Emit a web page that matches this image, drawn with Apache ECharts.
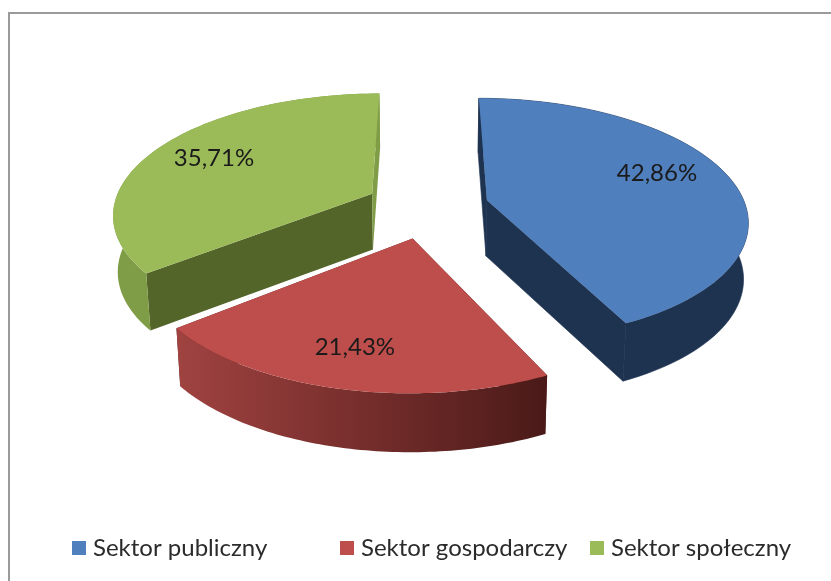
<!DOCTYPE html>
<html>
<head>
<meta charset="utf-8">
<style>
  html, body { margin: 0; padding: 0; background: #fff; }
  #chart { width: 831px; height: 581px; }
</style>
</head>
<body>
<div id="chart"></div>
<script src="https://cdn.jsdelivr.net/npm/echarts@6/dist/echarts.min.js"></script>
<script>
// data
const categories = ["Sektor publiczny", "Sektor gospodarczy", "Sektor społeczny"]
const shares = [42.86, 21.43, 35.71]

// look of each slice, same order as categories
const topColors = ["#4f7fbc", "#be4e4b", "#9bbb59"]
const sideColors = ["#1e3350", "#5a1f1d", "#7f9c46"]
const cutColors = ["#1e3350", "#5a1f1d", "#546529"]
const labelSpots = [[0.735, -6], [0.76, 1], [0.735, 0]] // part of radius, degrees off the middle
const legendLefts = [67, 335, 585]

// projection of the tilted pie
const cx = 427, cy = 207
const radiusX = 259, radiusY = 240, explode = 62
const persp = 0.00065, tilt = 0.499

function project(x, y, lowered) {
  const w = 1 + y * persp
  let sx = x / w
  let sy = -tilt * y / w
  if (lowered) {
    sx *= 0.985
    sy += 44 + 12 / w
  }
  return [cx + sx, cy + sy]
}

function angleStart(i) {
  let sum = 0
  for (let k = 0; k < i; k++) sum += shares[k]
  return (sum / 100) * Math.PI * 2
}

function renderSlice(i) {
  const a0 = angleStart(i)
  const a1 = a0 + (shares[i] / 100) * Math.PI * 2
  const mid = (a0 + a1) / 2
  const ox = Math.sin(mid) * explode
  const oy = Math.cos(mid) * explode
  const arcTop = []
  const arcLow = []
  const n = 80
  for (let k = 0; k <= n; k++) {
    const a = a0 + ((a1 - a0) * k) / n
    const x = ox + Math.sin(a) * radiusX
    const y = oy + Math.cos(a) * radiusY
    arcTop.push(project(x, y, false))
    arcLow.push(project(x, y, true))
  }
  const apex = project(ox, oy, false)
  const apexLow = project(ox, oy, true)
  const poly = (points, fill, stroke) => ({
    type: "polygon",
    shape: { points: points },
    style: { fill: fill, stroke: stroke || null, lineWidth: stroke ? 0.6 : 0 },
  })

  let sideFill = sideColors[i]
  let sideStroke = i === 0 ? sideColors[i] : null
  if (i === 1) {
    // red wall goes dark from left to right
    sideFill = new echarts.graphic.LinearGradient(0, 0, 1, 0, [
      { offset: 0, color: "#a04341" },
      { offset: 0.5, color: "#762e2c" },
      { offset: 1, color: "#4a1a18" },
    ])
  }

  const la = mid + (labelSpots[i][1] * Math.PI) / 180
  const f = labelSpots[i][0]
  const lab = project(ox + Math.sin(la) * radiusX * f, oy + Math.cos(la) * radiusY * f, false)

  return {
    type: "group",
    children: [
      poly([apex, arcTop[0], arcLow[0], apexLow], cutColors[i], i === 0 ? cutColors[i] : null),
      poly([apex, arcTop[n], arcLow[n], apexLow], i === 2 ? sideColors[i] : cutColors[i], i === 0 ? cutColors[i] : null),
      poly(arcTop.concat(arcLow.slice().reverse()), sideFill, sideStroke),
      poly([apex].concat(arcTop), topColors[i]),
      {
        type: "text",
        style: {
          x: lab[0],
          y: lab[1],
          text: shares[i].toFixed(2).replace(".", ",") + "%",
          fill: "#1a1a1a",
          font: "24px Lato",
          align: "center",
          verticalAlign: "middle",
        },
      },
    ],
  }
}

const myChart = echarts.init(document.getElementById("chart"))

// green goes first, then blue, red sits in front
const drawOrder = [2, 0, 1]

const option = {
  animation: false,
  backgroundColor: "#ffffff",
  graphic: [
    {
      type: "polyline",
      shape: { points: [[9, 581], [9, 13], [831, 13]] },
      style: { stroke: "#9a9a9a", lineWidth: 2, fill: "none" },
    },
  ],
  legend: categories.map((name, i) => ({
    data: [name],
    left: legendLefts[i],
    top: 531,
    icon: "rect",
    itemWidth: 14,
    itemHeight: 14,
    itemGap: 0,
    selectedMode: false,
    textStyle: { color: "#2b2b2b", fontFamily: "Lato", fontSize: 24, padding: [0, 0, 0, 2] },
  })),
  series: drawOrder.map((i) => ({
    type: "custom",
    name: categories[i],
    coordinateSystem: "none",
    silent: true,
    itemStyle: { color: topColors[i] },
    data: [shares[i]],
    renderItem: () => renderSlice(i),
  })),
}
myChart.setOption(option)
</script>
</body>
</html>
